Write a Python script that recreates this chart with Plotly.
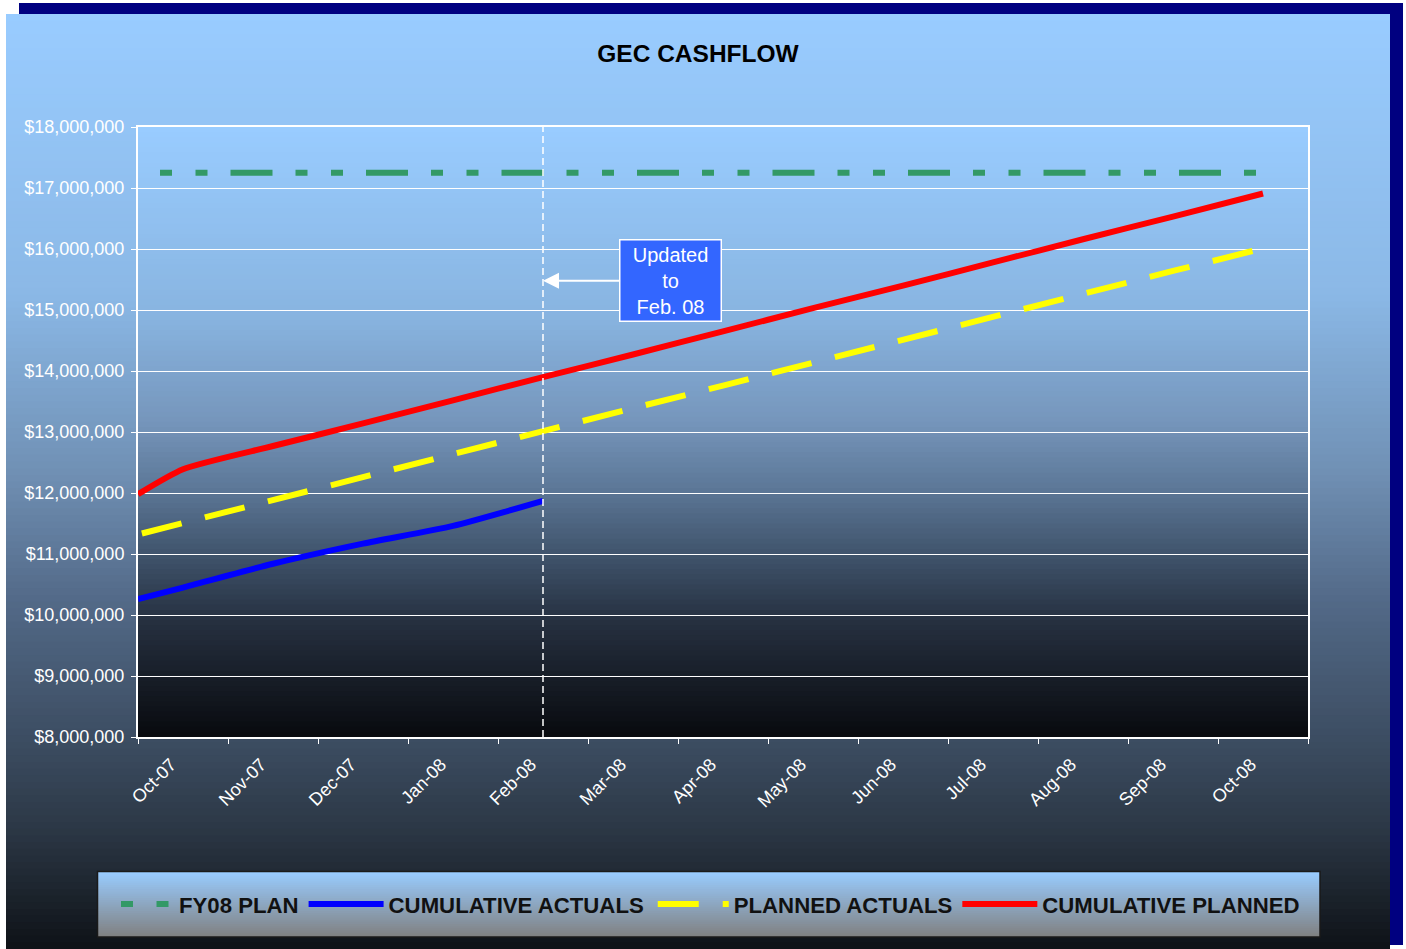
import plotly.graph_objects as go

# ---------------- data ----------------
months = ["Oct-07", "Nov-07", "Dec-07", "Jan-08", "Feb-08", "Mar-08", "Apr-08",
          "May-08", "Jun-08", "Jul-08", "Aug-08", "Sep-08", "Oct-08"]
month_pos = list(range(len(months)))          # category centres on a numeric axis
period_start = -0.5                           # axis origin (start of the period)

plan_x = [period_start, 12]
plan_y = [17_250_000, 17_250_000]

actual_x = [period_start, 0, 1, 2, 3, 4]
actual_y = [10_260_000, 10_450_000, 10_840_000, 11_170_000, 11_460_000, 11_870_000]

planned_actual_x = [period_start] + month_pos
planned_actual_y = [11_320_000, 11_510_000, 11_890_000, 12_260_000, 12_640_000,
                    13_010_000, 13_390_000, 13_760_000, 14_140_000, 14_510_000,
                    14_890_000, 15_260_000, 15_640_000, 16_010_000]

cum_planned_x = [period_start] + month_pos
cum_planned_y = [11_980_000, 12_390_000, 12_770_000, 13_140_000, 13_520_000,
                 13_900_000, 14_270_000, 14_650_000, 15_030_000, 15_400_000,
                 15_780_000, 16_160_000, 16_530_000, 16_910_000]

update_pos = 4               # Feb-08
update_value = 15_480_000
update_text_pos = 5.42

y_min, y_max, y_step = 8_000_000, 18_000_000, 1_000_000

# ---------------- geometry helpers (page pixels -> paper) ----------------
W, H = 1406, 949
PL, PR, PT, PB = 138, 1308, 127, 737


def px(x):
    return (x - PL) / (PR - PL)


def py(y):
    return (PB - y) / (PB - PT)


def interp(stops, t):
    for i in range(len(stops) - 1):
        t0, c0 = stops[i]
        t1, c1 = stops[i + 1]
        if t0 <= t <= t1:
            f = (t - t0) / (t1 - t0) if t1 > t0 else 0
            return "rgb(%d,%d,%d)" % tuple(round(a + (b - a) * f) for a, b in zip(c0, c1))
    return "rgb(%d,%d,%d)" % stops[-1][1]


def gradient(x0, x1, y0, y1, stops, n):
    out = []
    h = (y1 - y0) / n
    for i in range(n):
        ya = y0 + i * h
        yb = min(y1, ya + h + 1)
        out.append(dict(type="rect", xref="paper", yref="paper", layer="below",
                        x0=px(x0), x1=px(x1), y0=py(yb), y1=py(ya),
                        fillcolor=interp(stops, (i + 0.5) / n), line=dict(width=0)))
    return out


chart_stops = [(0.0, (153, 204, 255)), (0.30, (139, 184, 230)), (0.49, (112, 144, 180)),
               (0.63, (82, 105, 135)), (0.79, (58, 74, 94)), (0.87, (44, 56, 70)),
               (1.0, (14, 18, 23))]
plot_stops = [(0.0, (153, 204, 255)), (0.31, (136, 180, 224)), (0.48, (118, 150, 188)),
              (0.59, (93, 120, 152)), (0.70, (64, 84, 108)), (0.81, (38, 48, 64)),
              (1.0, (8, 10, 14))]
legend_stops = [(0.0, (153, 204, 255)), (1.0, (128, 128, 128))]

shapes = []
shapes += gradient(6, 1390, 14, 949, chart_stops, 140)
shapes += [dict(type="rect", xref="paper", yref="paper", layer="below",
                x0=px(19), x1=px(1403), y0=py(14), y1=py(3), fillcolor="#000080", line=dict(width=0)),
           dict(type="rect", xref="paper", yref="paper", layer="below",
                x0=px(1390), x1=px(1403), y0=py(945), y1=py(3), fillcolor="#000080", line=dict(width=0))]
shapes += gradient(PL, PR, PT, PB, plot_stops, 120)
shapes += gradient(98, 1320, 872, 937, legend_stops, 30)
shapes.append(dict(type="rect", xref="paper", yref="paper", layer="below",
                   x0=px(97.5), x1=px(1320), y0=py(937), y1=py(871.5),
                   fillcolor="rgba(0,0,0,0)", line=dict(color="#1a1a1a", width=1.5)))
# vertical "updated to" marker
shapes.append(dict(type="line", xref="x", yref="paper", x0=update_pos, x1=update_pos,
                   y0=0, y1=1, line=dict(color="white", width=1.5, dash="7px,4px")))

FONT = "Liberation Sans, Arial, sans-serif"

fig = go.Figure()
fig.add_trace(go.Scatter(x=plan_x, y=plan_y, name="FY08 PLAN", mode="lines",
                         line=dict(color="#339966", width=6,
                                   dash="0px,22px,12px,23.5px,12px,23px,42px,1px")))
fig.add_trace(go.Scatter(x=actual_x, y=actual_y, name="CUMULATIVE ACTUALS", mode="lines",
                         line=dict(color="#0000FF", width=6, shape="spline", smoothing=0.6)))
fig.add_trace(go.Scatter(x=planned_actual_x, y=planned_actual_y, name="PLANNED ACTUALS",
                         mode="lines",
                         line=dict(color="#FFFF00", width=6, dash="0px,4px,41px,20px")))
fig.add_trace(go.Scatter(x=cum_planned_x, y=cum_planned_y, name="CUMULATIVE PLANNED",
                         mode="lines",
                         line=dict(color="#FF0000", width=6, shape="spline", smoothing=0.6)))

fig.add_annotation(x=update_pos, y=update_value, xref="x", yref="y",
                   ax=update_text_pos, ay=update_value, axref="x", ayref="y",
                   text="Updated<br>to<br>Feb. 08", showarrow=True,
                   arrowhead=2, arrowsize=1.6, arrowwidth=2, arrowcolor="white", standoff=0,
                   bgcolor="#3366FF", bordercolor="white", borderwidth=1.5, borderpad=2,
                   width=96, height=76, align="center",
                   font=dict(family=FONT, size=20, color="white"))

fig.update_layout(
    width=W, height=H,
    margin=dict(l=PL, r=W - PR, t=PT, b=H - PB),
    paper_bgcolor="white", plot_bgcolor="rgba(0,0,0,0)",
    font=dict(family=FONT, size=18, color="white"),
    title=dict(text="GEC CASHFLOW", x=698 / W, xref="container", xanchor="center",
               y=1 - 53 / H, yref="container", yanchor="middle",
               font=dict(family=FONT, size=24.5, color="black", weight="bold")),
    shapes=shapes,
    showlegend=True,
    legend=dict(orientation="h", x=px(94), xanchor="left", y=py(904), yanchor="middle",
                bgcolor="rgba(0,0,0,0)", borderwidth=0, itemwidth=75,
                font=dict(family=FONT, size=22.2, color="#111111", weight="bold"),
                traceorder="normal"),
    xaxis=dict(range=[-0.5, 12.5], tickmode="array", tickvals=month_pos, ticktext=months,
               tickangle=-45, ticks="", showgrid=False, zeroline=False,
               ticklabelshift=-12, ticklabelstandoff=8,
               showline=True, linecolor="white", linewidth=2, mirror=True,
               tickfont=dict(family=FONT, size=18, color="white"),
               minor=dict(tickmode="array", tickvals=[p - 0.5 for p in month_pos] + [12.5],
                          ticks="outside", ticklen=5, tickcolor="white", tickwidth=1,
                          showgrid=False)),
    yaxis=dict(range=[y_min, y_max], dtick=y_step, tick0=y_min, tickformat="$,.0f",
               showgrid=True, gridcolor="white", gridwidth=1, zeroline=False,
               showline=True, linecolor="white", linewidth=2, mirror=True,
               ticks="outside", ticklen=5, tickcolor="white", ticklabelstandoff=3,
               tickfont=dict(family=FONT, size=18, color="white")),
)

fig.write_html("out.html", config={"displayModeBar": False},
               post_script="document.body.style.margin='0';")
